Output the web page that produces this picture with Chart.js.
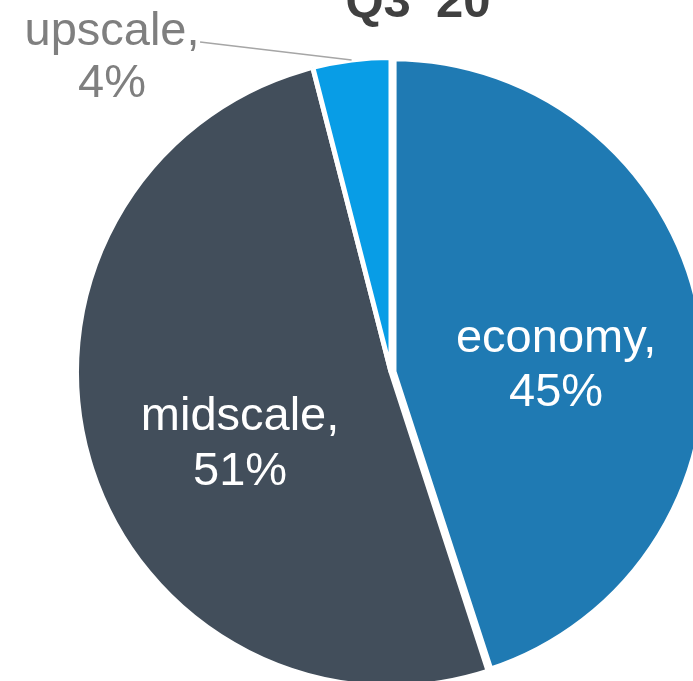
<!DOCTYPE html>
<html>
<head>
<meta charset="utf-8">
<script src="https://cdn.jsdelivr.net/npm/chart.js@4.4.1/dist/chart.umd.min.js"></script>
<style>
  html, body { margin: 0; padding: 0; background: #ffffff; overflow: hidden; width: 693px; height: 681px; }
  #wrap { position: absolute; left: -9px; top: -28px; width: 800px; height: 800px; }
</style>
</head>
<body>
<div id="wrap"><canvas id="pie" width="800" height="800"></canvas></div>
<script>
// Hotel segment mix, share of supply
const categories = ['economy', 'midscale', 'upscale'];
const shares = [45, 51, 4];
const sliceColors = ['#1f7ab3', '#424e5b', '#089de6'];
const labelColors = ['#ffffff', '#ffffff', '#7f7f7f'];
const chartTitle = "Q3 '20";

// label placement relative to the pie centre, in units of the outer radius
const labelAnchors = [[0.525, -0.064], [-0.48, 0.184], [-0.887, -1.04]];
const lineGaps = [54, 55, 52];
const FONT = '"Liberation Sans", Arial, sans-serif';

const pieLabels = {
  id: 'pieLabels',
  afterDatasetsDraw(chart) {
    const ctx = chart.ctx;
    const meta = chart.getDatasetMeta(0);
    ctx.save();
    ctx.textAlign = 'center';
    ctx.textBaseline = 'alphabetic';
    ctx.font = '47px ' + FONT;
    meta.data.forEach((arc, i) => {
      const p = arc.getProps(['x', 'y', 'outerRadius', 'startAngle', 'endAngle'], true);
      const r = p.outerRadius;
      const lx = p.x + labelAnchors[i][0] * r;
      const ly = p.y + labelAnchors[i][1] * r;
      ctx.fillStyle = labelColors[i];
      ctx.fillText(categories[i] + ',', lx, ly);
      ctx.fillText(shares[i] + '%', lx, ly + lineGaps[i]);
      if (i === 2) {
        // leader from the label to the slice edge
        const mid = (p.startAngle + p.endAngle) / 2;
        ctx.strokeStyle = '#a6a6a6';
        ctx.lineWidth = 1.5;
        ctx.beginPath();
        ctx.moveTo(lx + 88, ly - 3);
        ctx.lineTo(p.x + Math.cos(mid) * r, p.y + Math.sin(mid) * r);
        ctx.stroke();
      }
    });
    // title
    ctx.font = 'bold 49px ' + FONT;
    ctx.fillStyle = '#404040';
    ctx.fillText(chartTitle, meta.data[0].x + 27, meta.data[0].y - 355);
    ctx.restore();
  }
};

new Chart(document.getElementById('pie'), {
  type: 'pie',
  data: {
    labels: categories,
    datasets: [{
      data: shares,
      backgroundColor: sliceColors,
      borderColor: '#ffffff',
      borderWidth: [9, 5, 5],
      offset: [4, 0, 0],
      radius: 314.5
    }]
  },
  options: {
    responsive: false,
    animation: false,
    layout: { padding: 0 },
    plugins: { legend: { display: false }, tooltip: { enabled: false }, title: { display: false } }
  },
  plugins: [pieLabels]
});
</script>
</body>
</html>
